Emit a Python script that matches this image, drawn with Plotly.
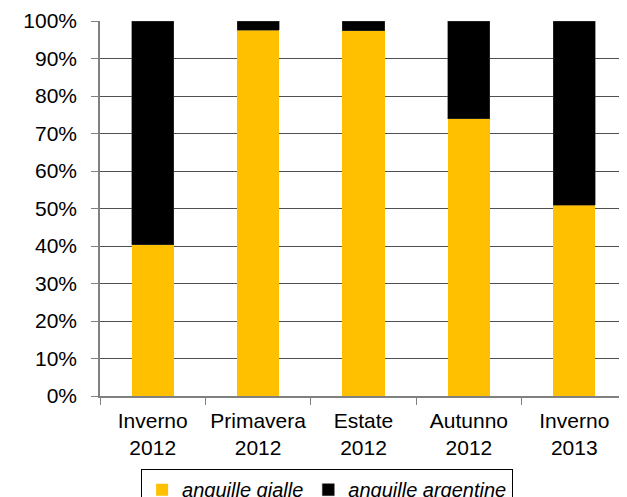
import plotly.graph_objects as go

categories = ["Inverno<br>2012", "Primavera<br>2012", "Estate<br>2012", "Autunno<br>2012", "Inverno<br>2013"]
gialle = [40.3, 97.6, 97.4, 73.9, 50.9]
argentine = [59.7, 2.4, 2.6, 26.1, 49.1]

fig = go.Figure()
fig.add_trace(go.Bar(x=categories, y=gialle, name="anguille gialle",
                     marker=dict(color="#FFC000", line=dict(width=0)), width=0.4))
fig.add_trace(go.Bar(x=categories, y=argentine, name="anguille argentine",
                     marker=dict(color="#000000", line=dict(color="#404040", width=0.5)), width=0.4))

fig.update_layout(
    barmode="stack",
    width=619, height=489,
    margin=dict(l=92, r=0, t=13, b=101, autoexpand=False),
    plot_bgcolor="white", paper_bgcolor="white",
    font=dict(family="Liberation Sans, Arial, sans-serif", size=20, color="#000000"),
    showlegend=True,
    legend=dict(orientation="h", x=0.078, xanchor="left", y=-0.195, yanchor="top",
                font=dict(size=20, style="italic"), bordercolor="#000000", borderwidth=1,
                bgcolor="white", traceorder="normal"),
    bargap=0.6,
)
fig.update_xaxes(
    tickson="boundaries", ticks="outside", ticklen=7, tickcolor="#808080",
    showline=True, linecolor="#808080", linewidth=1.5,
    tickfont=dict(size=21), showgrid=False, automargin=False,
    ticklabelstandoff=5,
)
fig.update_yaxes(
    range=[0, 100], dtick=10, ticksuffix="%", ticks="outside", ticklen=7, tickcolor="#808080",
    showline=True, linecolor="#808080", linewidth=1.5,
    showgrid=True, gridcolor="#505050", gridwidth=1,
    tickfont=dict(size=21), zeroline=False, automargin=False,
    ticklabelstandoff=10,
)

fig.write_html("out.html")
